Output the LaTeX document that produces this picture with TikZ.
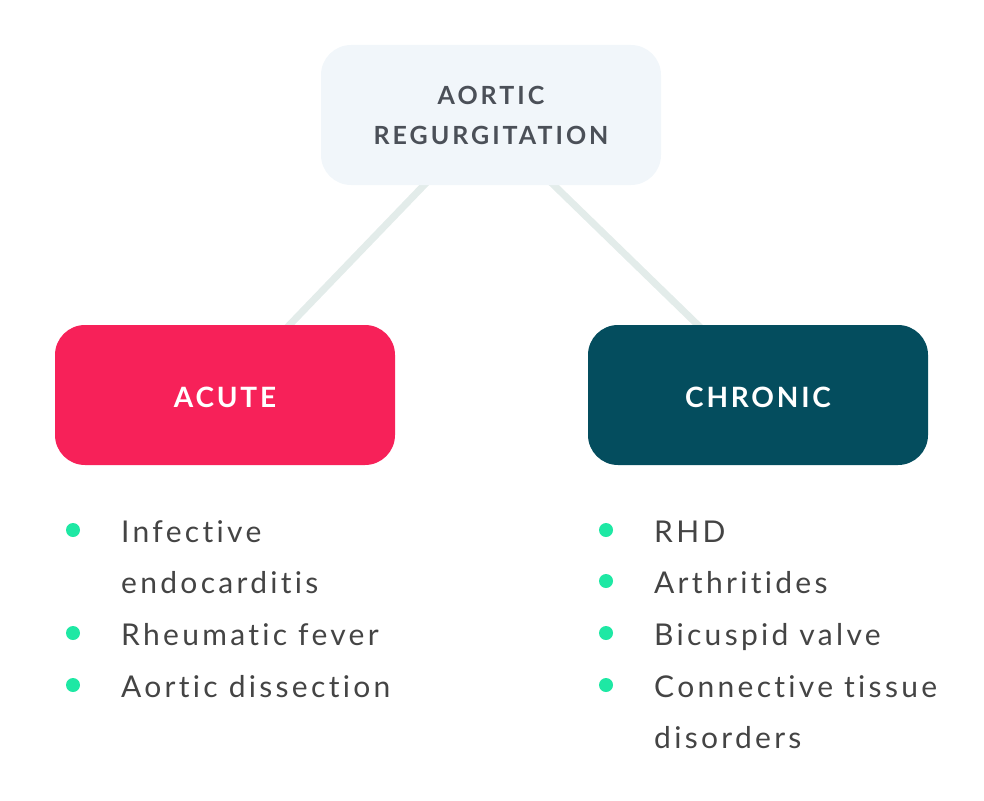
\documentclass[tikz,border=0pt]{standalone}
\usepackage{fontspec}
\usepackage{xcolor}
\usepackage{tikz}
\usetikzlibrary{positioning,backgrounds}
\setmainfont{Lato}[LetterSpace=11,Ligatures=NoCommon]
\newfontfamily\headfont{Lato}[LetterSpace=12,BoldFont={Lato Bold}]
\newfontfamily\kindfont{Lato}[LetterSpace=10,BoldFont={Lato Bold}]
\definecolor{toppale}{HTML}{F1F6FA}
\definecolor{topink}{HTML}{4B5058}
\definecolor{linkgrey}{HTML}{E3ECEA}
\definecolor{acutered}{HTML}{F72159}
\definecolor{chronicteal}{HTML}{044D5E}
\definecolor{dotgreen}{HTML}{1EE8A4}
\definecolor{bodyink}{HTML}{444444}

\begin{document}
\begin{tikzpicture}[
    x=1pt, y=-1pt,
    head/.style={rounded corners=30pt, minimum width=340pt, minimum height=140pt, align=center,
        font=\headfont\bfseries\fontsize{25}{40}\selectfont},
    kind/.style={head, text=white, text height=25pt, text depth=0pt,
        font=\kindfont\bfseries\fontsize{28}{40}\selectfont},
    link/.style={draw=linkgrey, line width=7pt},
    dot/.style={circle, fill=dotgreen, inner sep=0pt, minimum size=14pt},
    item/.style={anchor=base west, inner sep=0pt, text=bodyink, font=\fontsize{30}{52}\selectfont},
]
    \useasboundingbox (0,0) rectangle (984,800);

    % Boxes
    \node[head, fill=toppale, text=topink] (aortic) at (491,115) {AORTIC\\REGURGITATION};
    \node[kind, fill=acutered] (acute) at (225,395) {ACUTE};
    \node[kind, fill=chronicteal] (chronic) at (758,395) {CHRONIC};

    % Links
    \begin{scope}[on background layer]
        \draw[link] ([xshift=108pt,yshift=5pt]aortic.south west) -- ([xshift=230pt,yshift=-5pt]acute.north west);
        \draw[link] ([xshift=228pt,yshift=5pt]aortic.south west) -- ([xshift=115pt,yshift=-5pt]chronic.north west);
    \end{scope}

    % Acute causes
    \node[dot] (a1) at (73,530) {};
    \node[dot] (a2) at (73,633) {};
    \node[dot] (a3) at (73,685) {};
    \node[item] (ta1) at (121,542) {Infective};
    \node[item] (ta1b) at (121,593) {endocarditis};
    \node[item] (ta2) at (121,645) {Rheumatic fever};
    \node[item] (ta3) at (121,697) {Aortic dissection};

    % Chronic causes
    \node[dot] (c1) at (606,530) {};
    \node[dot] (c2) at (606,581) {};
    \node[dot] (c3) at (606,633) {};
    \node[dot] (c4) at (606,685) {};
    \node[item] (tc1) at (654,542) {RHD};
    \node[item] (tc2) at (654,593) {Arthritides};
    \node[item] (tc3) at (654,645) {Bicuspid valve};
    \node[item] (tc4) at (654,697) {Connective tissue};
    \node[item] (tc4b) at (654,748) {disorders};
\end{tikzpicture}
\end{document}
